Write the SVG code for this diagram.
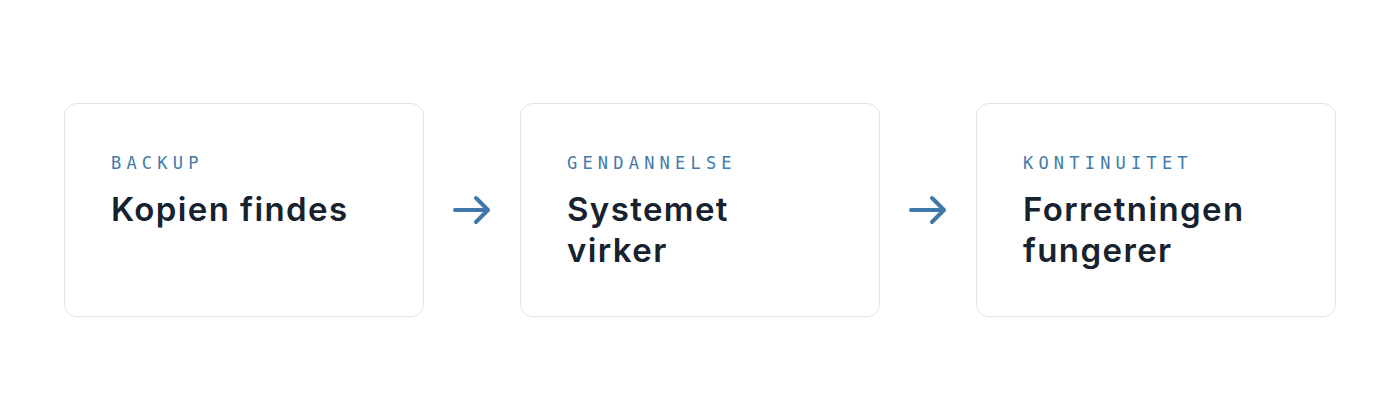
<svg xmlns="http://www.w3.org/2000/svg" width="1400" height="420" viewBox="0 0 1400 420">
<style>
.box{fill:#ffffff;stroke:#dbe6ef;stroke-width:1}
.lbl{font-family:"DejaVu Sans Mono","Liberation Mono",monospace;font-size:17px;letter-spacing:5.2px;fill:#3f7bab}
.ttl{font-family:Inter,"Noto Sans",sans-serif;font-weight:600;font-size:33px;letter-spacing:1.4px;fill:#17222f}
.arr{fill:none;stroke:#3f78a8;stroke-width:4;stroke-linecap:round;stroke-linejoin:round}
</style>
<rect width="1400" height="420" fill="#ffffff"/>
<g id="node-backup">
<rect class="box" x="64.5" y="103.5" width="359" height="213" rx="12"/>
<text class="lbl" x="111" y="169">BACKUP</text>
<text class="ttl" x="111" y="221">Kopien findes</text>
</g>
<g id="node-gendannelse">
<rect class="box" x="520.5" y="103.5" width="359" height="213" rx="12"/>
<text class="lbl" x="567" y="169">GENDANNELSE</text>
<text class="ttl" x="567" y="221">Systemet</text>
<text class="ttl" x="567" y="262">virker</text>
</g>
<g id="node-kontinuitet">
<rect class="box" x="976.5" y="103.5" width="359" height="213" rx="12"/>
<text class="lbl" x="1023" y="169">KONTINUITET</text>
<text class="ttl" x="1023" y="221">Forretningen</text>
<text class="ttl" x="1023" y="262">fungerer</text>
</g>
<g id="connectors">
<path class="arr" d="M455 210 H488 M476 198 L488 210 L476 222"/>
<path class="arr" d="M911 210 H944 M932 198 L944 210 L932 222"/>
</g>
</svg>
